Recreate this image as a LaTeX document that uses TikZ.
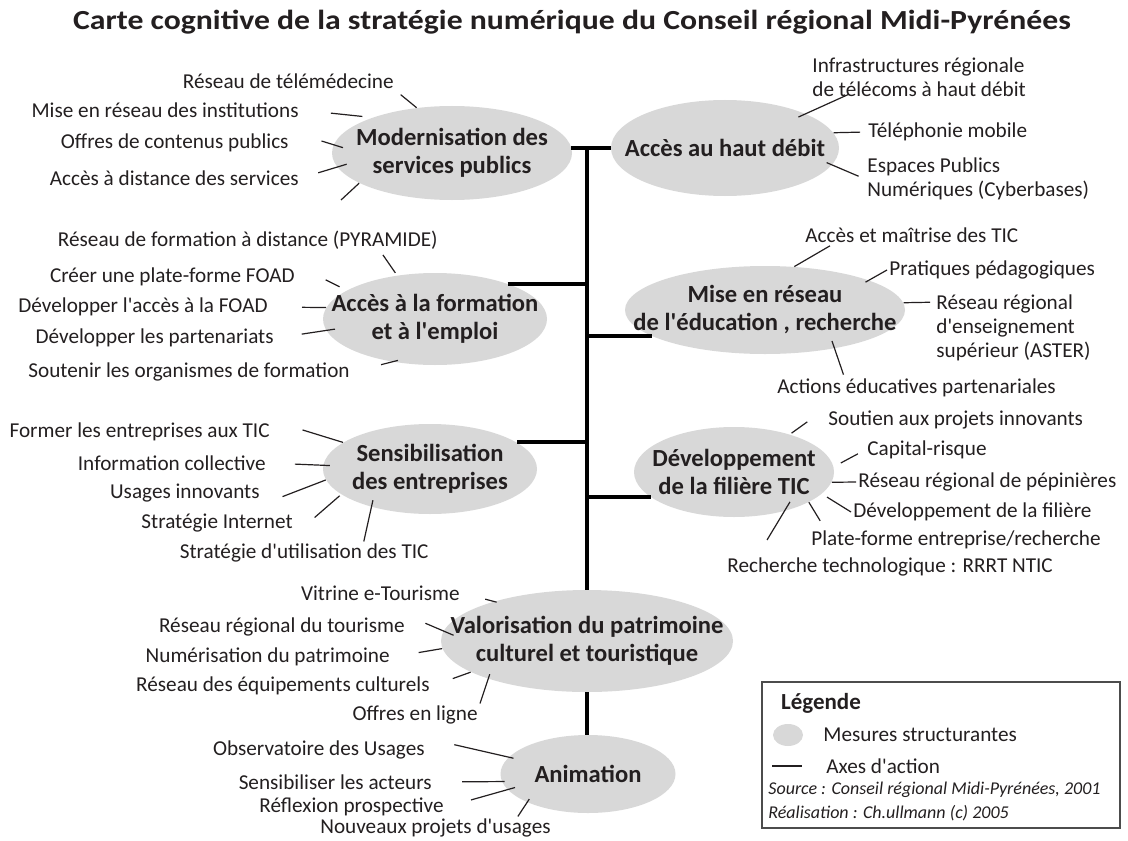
\documentclass[tikz,border=0pt]{standalone}
\usepackage{fontspec}
\setmainfont{Carlito}[Ligatures=TeXOff]
\newfontfamily\titrefont{Carlito}[FakeStretch=1.15]
\usetikzlibrary{shapes.geometric}
\definecolor{grismesure}{RGB}{216,216,216}
\definecolor{encre}{RGB}{35,31,32}
\tikzset{
  mesure/.style={ellipse, fill=grismesure, inner xsep=-20pt, inner ysep=0pt,
    align=center, text=encre, font=\bfseries\fontsize{12.3}{14}\selectfont},
  action/.style={inner sep=1pt, align=left, text=encre,
    font=\fontsize{10.6}{12}\selectfont},
  axe/.style={line width=2pt, black},
  trait/.style={line width=0.6pt, encre},
}
\begin{document}
\begin{tikzpicture}[x=0.5pt,y=-0.5pt]
    \useasboundingbox (0,0) rectangle (1128,840);
    \node[text=encre, font=\titrefont\bfseries\fontsize{13.8}{16}\selectfont] (titre) at (572,22)
        {Carte cognitive de la stratégie numérique du Conseil régional Midi-Pyrénées};

    % mesures structurantes
    \node[mesure, minimum width=120pt, minimum height=47pt] (modern) at (452,153) {Modernisation des\\services publics};
    \node[mesure, minimum width=114pt, minimum height=48pt] (debit) at (725,148) {Accès au haut débit};
    \node[mesure, minimum width=112pt, minimum height=46pt] (form) at (435,319) {Accès à la formation\\et à l'emploi};
    \node[mesure, minimum width=140pt, minimum height=44pt] (educ) at (765,310) {Mise en réseau\\de l'éducation , recherche};
    \node[mesure, minimum width=107pt, minimum height=45pt] (sensib) at (430,469) {Sensibilisation\\des entreprises};
    \node[mesure, minimum width=100pt, minimum height=45pt] (filiere) at (734,472) {Développement\\de la filière TIC};
    \node[mesure, minimum width=146pt, minimum height=51pt] (patri) at (587,641) {Valorisation du patrimoine\\culturel et touristique};
    \node[mesure, minimum width=87.5pt, minimum height=39pt] (anim) at (588,774) {Animation};

    % axes d'action
    \coordinate (tronc) at (587,148);
    \draw[axe] (modern.3 |- debit.west) -- (debit.west);
    \draw[axe] (tronc) -- (patri.north);
    \draw[axe] (patri.south) -- (patri.south |- anim.north);
    \draw[axe] (form.26) -- (form.26 -| tronc);
    \draw[axe] (educ.193) -- (educ.193 -| tronc);
    \draw[axe] (sensib.17) -- (sensib.17 -| tronc);
    \draw[axe] (filiere.197) -- (filiere.197 -| tronc);

    % actions, a gauche
    \node[action, anchor=east] (a1) at (396,81) {Réseau de télémédecine};
    \node[action, anchor=east] (a2) at (301,110) {Mise en réseau des institutions};
    \node[action, anchor=east] (a3) at (291,143) {Offres de contenus publics};
    \node[action, anchor=east] (a4) at (301,178) {Accès à distance des services};
    \node[action, anchor=east] (c1) at (440,240) {Réseau de formation à distance (PYRAMIDE)};
    \node[action, anchor=east] (c2) at (297,277) {Créer une plate-forme FOAD};
    \node[action, anchor=east] (c3) at (270,307) {Développer l'accès à la FOAD};
    \node[action, anchor=east] (c4) at (276,338) {Développer les partenariats};
    \node[action, anchor=east] (c5) at (352,372) {Soutenir les organismes de formation};
    \node[action, anchor=east] (e1) at (272,432) {Former les entreprises aux TIC};
    \node[action, anchor=east] (e2) at (268,463) {Information collective};
    \node[action, anchor=east] (e3) at (262,493) {Usages innovants};
    \node[action, anchor=east] (e4) at (295,523) {Stratégie Internet};
    \node[action, anchor=east] (e5) at (431,553) {Stratégie d'utilisation des TIC};
    \node[action, anchor=east] (g1) at (462,593) {Vitrine e-Tourisme};
    \node[action, anchor=east] (g2) at (407,627) {Réseau régional du tourisme};
    \node[action, anchor=east] (g3) at (392,657) {Numérisation du patrimoine};
    \node[action, anchor=east] (g4) at (432,686) {Réseau des équipements culturels};
    \node[action, anchor=east] (g5) at (480,715) {Offres en ligne};
    \node[action, anchor=east] (h1) at (427,750) {Observatoire des Usages};
    \node[action, anchor=east] (h2) at (434,782) {Sensibiliser les acteurs};
    \node[action, anchor=east] (h3) at (446,807) {Réflexion prospective};
    \node[action, anchor=east] (h4) at (553,828) {Nouveaux projets d'usages};

    % actions, a droite
    \node[action, anchor=west] (b1) at (810,77.5) {Infrastructures régionale\\de télécoms à haut débit};
    \node[action, anchor=west] (b2) at (866,132) {Téléphonie mobile};
    \node[action, anchor=west] (b3) at (865,179) {Espaces Publics\\Numériques (Cyberbases)};
    \node[action, anchor=west] (d1) at (803,235) {Accès et maîtrise des TIC};
    \node[action, anchor=west] (d2) at (887,270) {Pratiques pédagogiques};
    \node[action, anchor=west] (d3) at (934,328) {Réseau régional\\d'enseignement\\supérieur (ASTER)};
    \node[action, anchor=west] (d4) at (775,388) {Actions éducatives partenariales};
    \node[action, anchor=west] (f1) at (826,420) {Soutien aux projets innovants};
    \node[action, anchor=west] (f2) at (865,450) {Capital-risque};
    \node[action, anchor=west] (f3) at (856,482) {Réseau régional de pépinières};
    \node[action, anchor=west] (f4) at (851,512) {Développement de la filière};
    \node[action, anchor=west] (f5) at (809,540) {Plate-forme entreprise/recherche};
    \node[action, anchor=west] (f6) at (725,567) {Recherche technologique : RRRT NTIC};

    % traits
    \draw[trait, shorten <=3pt] (a1.south east) -- (modern.128);
    \draw[trait, shorten <=15pt, shorten >=5pt] (a2.east) -- (modern.156);
    \draw[trait, shorten <=16pt, shorten >=-5pt] (a3.north east) -- (modern.176);
    \draw[trait, shorten <=9pt, shorten >=-5pt] (a4.east) -- (modern.187);
    \coordinate (modernlibre) at (341,200);
    \draw[trait] (modern.198) -- (modernlibre);
    \draw[trait, shorten <=-6pt, shorten >=-4pt] (b1.195) -- (debit.23);
    \draw[trait, shorten <=3pt] (b2.west) -- (debit.8);
    \draw[trait, shorten <=3.5pt, shorten >=-3pt] (b3.west) -- (debit.351);
    \draw[trait, shorten <=2pt, shorten >=1.5pt] (c1.355) -- (form.131);
    \draw[trait, shorten <=16pt, shorten >=4pt] (c2.north east) -- (form.162);
    \draw[trait, shorten <=16pt] (c3.east) -- (form.174);
    \draw[trait, shorten <=13pt, shorten >=-4.5pt] (c4.east) -- (form.186);
    \draw[trait, shorten <=15pt, shorten >=-3pt] (c5.east) -- (form.225);
    \draw[trait, shorten <=1pt] (d1.187) -- (educ.56);
    \draw[trait, shorten >=-2pt] (d2.west) -- (educ.16);
    \draw[trait, shorten <=2pt] (d3.162) -- (educ.3);
    \draw[trait, shorten <=1pt, shorten >=-4pt] (d4.171) -- (educ.331);
    \draw[trait, shorten <=16pt] (e1.north east) -- (sensib.163);
    \draw[trait, shorten <=13.5pt, shorten >=-3.5pt] (e2.east) -- (sensib.178);
    \draw[trait, shorten <=11pt] (e3.south east) -- (sensib.186);
    \draw[trait, shorten <=13pt, shorten >=1pt] (e4.south east) -- (sensib.196);
    \draw[trait, shorten >=-3.5pt] (e5.11) -- (sensib.213);
    \draw[trait, shorten <=11.5pt, shorten >=1pt] (f1.north west) -- (filiere.34);
    \draw[trait, shorten <=4pt, shorten >=4pt] (f2.west) -- (filiere.3);
    \draw[trait] (f3.west) -- (filiere.354);
    \draw[trait, shorten >=3pt] (f4.west) -- (filiere.346);
    \draw[trait, shorten <=4.5pt] (f5.175) -- (filiere.338);
    \draw[trait, shorten <=9pt, shorten >=-5.5pt] (f6.175) -- (filiere.322);
    \draw[trait, shorten <=12pt, shorten >=-1.5pt] (g1.east) -- (patri.157);
    \draw[trait, shorten <=10pt, shorten >=-5.5pt] (g2.north east) -- (patri.176);
    \draw[trait, shorten <=13.5pt] (g3.east) -- (patri.183);
    \draw[trait, shorten <=11pt] (g4.east) -- (patri.195);
    \draw[trait, shorten >=-2.5pt] (g5.north east) -- (patri.201);
    \draw[trait, shorten <=14pt, shorten >=-2.5pt] (h1.north east) -- (anim.168);
    \draw[trait, shorten <=14pt, shorten >=-1.5pt] (h2.east) -- (anim.185);
    \draw[trait, shorten <=13pt, shorten >=-4pt] (h3.east) -- (anim.191);
    \draw[trait, shorten >=-2pt] (h4.8) -- (anim.205);

    % legende
    \draw[gray!60!black, line width=0.7pt] (762,682) rectangle (1120,828);
    \node[anchor=west, text=encre, font=\bfseries\fontsize{11.5}{13}\selectfont] (legende) at (774,703) {Légende};
    \node[mesure, minimum width=15pt, minimum height=11pt] (legmesure) at (788,735) {};
    \node[action, anchor=west] (legmesuretxt) at (821,735) {Mesures structurantes};
    \draw[line width=0.7pt, encre] (772,766) -- (802,766);
    \node[action, anchor=west] (legaxetxt) at (824,766) {Axes d'action};
    \node[action, anchor=west, font=\itshape\fontsize{9}{11}\selectfont] (source) at (766,790)
        {Source : Conseil régional Midi-Pyrénées, 2001};
    \node[action, anchor=west, font=\itshape\fontsize{9}{11}\selectfont] (realisation) at (766,813)
        {Réalisation : Ch.ullmann (c) 2005};
\end{tikzpicture}
\end{document}
